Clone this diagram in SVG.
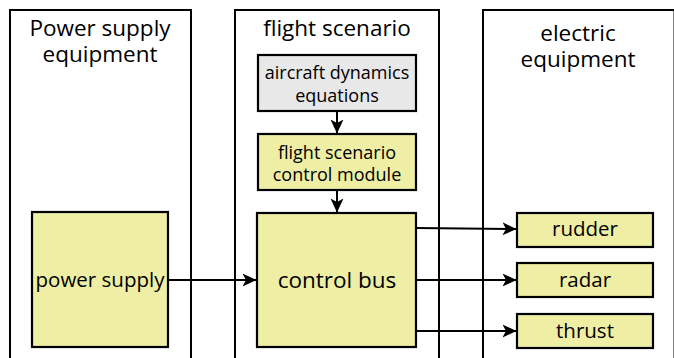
<svg xmlns="http://www.w3.org/2000/svg" width="674" height="358" viewBox="0 0 674 358">
<style>
.col{fill:#fff;stroke:#000;stroke-width:2}
.box{stroke:#000;stroke-width:2.2}
.y{fill:#eeeea5}
.g{fill:#e8e8e8}
text{font-family:"Open Sans","Noto Sans",sans-serif;fill:#000;text-anchor:middle}
.t{font-size:22.5px}
.m{font-size:18px}
.s{font-size:20.5px}
.c{fill:none;stroke:#000;stroke-width:2}
</style>
<defs>
<marker id="ah" viewBox="0 0 14 14" refX="13.5" refY="7" markerWidth="14" markerHeight="14" markerUnits="userSpaceOnUse" orient="auto">
<path d="M0,0.5 L14,7 L0,13.5 L3.5,7 Z" fill="#000"/>
</marker>
</defs>
<g id="col-power">
<rect class="col" x="10" y="10" width="181" height="360"/>
<text class="t" x="100" y="36">Power supply<tspan x="100" dy="26">equipment</tspan></text>
</g>
<g id="col-flight">
<rect class="col" x="235" y="10" width="204" height="360"/>
<text class="t" x="337" y="36">flight scenario</text>
</g>
<g id="col-electric">
<rect class="col" x="483" y="10" width="191.5" height="360"/>
<text class="t" x="578" y="41">electric<tspan x="578" dy="26">equipment</tspan></text>
</g>
<g id="connectors">
<path class="c" d="M337,111 V133" marker-end="url(#ah)"/>
<path class="c" d="M337,190 V212" marker-end="url(#ah)"/>
<path class="c" d="M168,280 H256" marker-end="url(#ah)"/>
<path class="c" d="M416,228 L516,229" marker-end="url(#ah)"/>
<path class="c" d="M416,280 H516" marker-end="url(#ah)"/>
<path class="c" d="M416,331 H516" marker-end="url(#ah)"/>
</g>
<g id="aircraft-dynamics">
<rect class="box g" x="258" y="55" width="158" height="56"/>
<text class="m" x="337" y="79">aircraft dynamics<tspan x="337" dy="23">equations</tspan></text>
</g>
<g id="control-module">
<rect class="box y" x="258" y="134" width="158" height="56"/>
<text class="m" x="337" y="159">flight scenario<tspan x="337" dy="22">control module</tspan></text>
</g>
<g id="control-bus">
<rect class="box y" x="257" y="213" width="159" height="134"/>
<text class="t" x="337" y="288">control bus</text>
</g>
<g id="power-supply">
<rect class="box y" x="32" y="212" width="136" height="135"/>
<text class="s" x="100" y="287">power supply</text>
</g>
<g id="rudder">
<rect class="box y" x="517" y="213" width="136" height="34"/>
<text class="s" x="585" y="236">rudder</text>
</g>
<g id="radar">
<rect class="box y" x="517" y="263" width="136" height="34"/>
<text class="s" x="585" y="287">radar</text>
</g>
<g id="thrust">
<rect class="box y" x="517" y="314" width="136" height="34"/>
<text class="s" x="585" y="338">thrust</text>
</g>
</svg>
